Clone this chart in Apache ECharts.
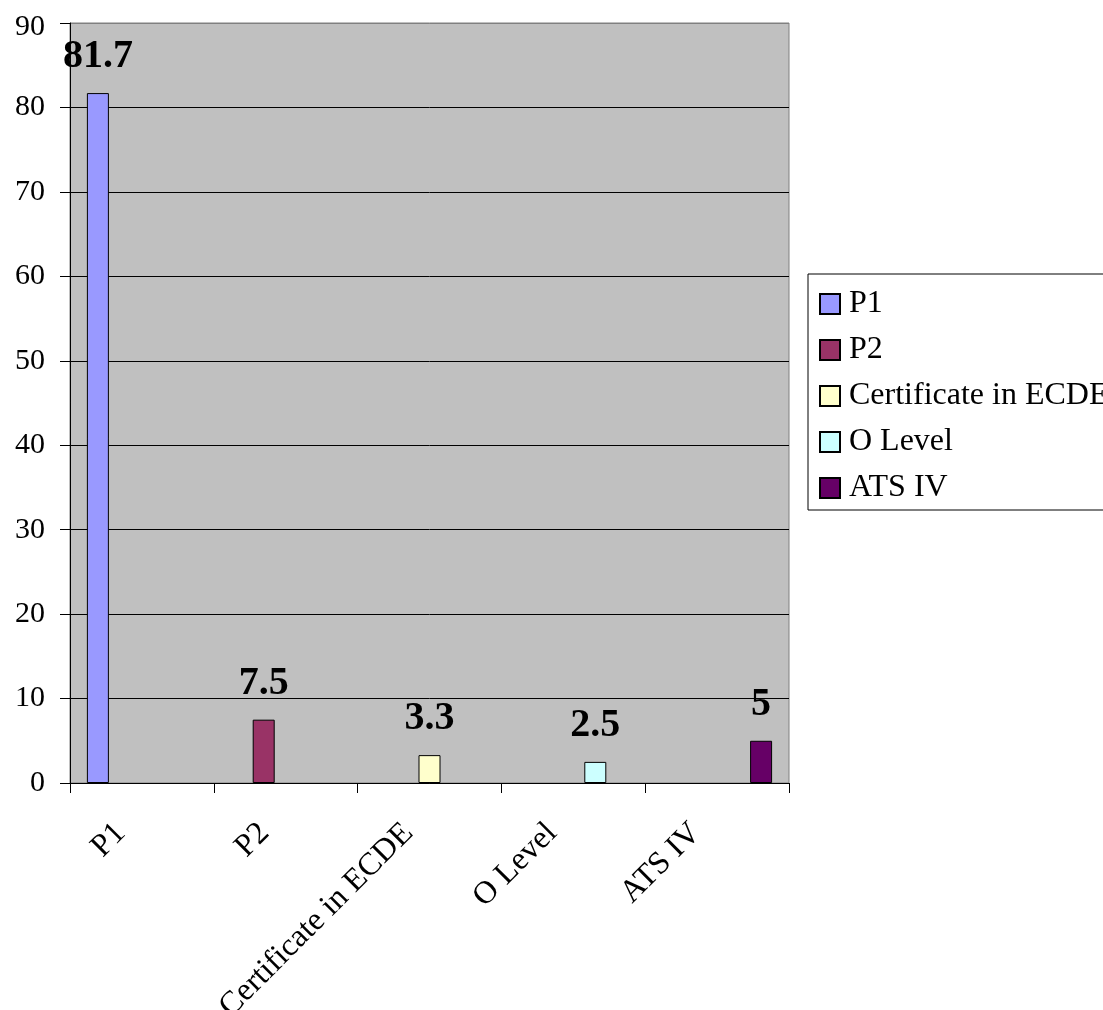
<!DOCTYPE html>
<html>
<head>
<meta charset="utf-8">
<script src="https://cdn.jsdelivr.net/npm/echarts@6/dist/echarts.min.js"></script>
<style>
html,body{margin:0;padding:0;background:#fff;overflow:hidden;}
#c{width:1103px;height:1010px;}
</style>
</head>
<body>
<div id="c"></div>
<script>
var categories = ['P1', 'P2', 'Certificate in ECDE', 'O Level', 'ATS IV'];
var seriesNames = ['P1', 'P2', 'Certificate in ECDE', 'O Level', 'ATS IV'];
var values = [81.7, 7.5, 3.3, 2.5, 5];
var colors = ['#9999FF', '#993366', '#FFFFCC', '#CCFFFF', '#660066'];
var yTicks = [0, 10, 20, 30, 40, 50, 60, 70, 80, 90];

var FONT = '"Liberation Serif", "Times New Roman", serif';
var chart = echarts.init(document.getElementById('c'), null, {renderer: 'canvas'});

var series = seriesNames.map(function (name, i) {
  return {
    name: name,
    type: 'bar',
    barWidth: 22,
    barGap: '0%',
    itemStyle: {color: colors[i], borderColor: '#000', borderWidth: 1},
    label: {
      show: true,
      position: 'top',
      distance: 16,
      color: '#000',
      fontFamily: FONT,
      fontWeight: 'bold',
      fontSize: 40
    },
    data: categories.map(function (c, j) { return j === i ? values[i] : '-'; })
  };
});

var splitColors = yTicks.map(function (t, k) { return k === yTicks.length - 1 ? '#808080' : '#000'; });
var yMax = yTicks[yTicks.length - 1];

chart.setOption({
  animation: false,
  backgroundColor: '#fff',
  grid: {
    left: 70, right: 314, top: 23, bottom: 227,
    show: true, backgroundColor: '#C0C0C0', borderColor: '#808080', borderWidth: 1,
    containLabel: false,
    outerBoundsMode: 'none'
  },
  legend: {
    orient: 'vertical',
    left: 808, top: 274,
    padding: [14, 10, 6, 11],
    itemGap: 14,
    itemWidth: 20, itemHeight: 20,
    icon: 'rect',
    borderColor: '#000', borderWidth: 1,
    backgroundColor: '#fff',
    textStyle: {fontFamily: FONT, fontSize: 32, color: '#000', padding: [0, 0, 0, 4]},
    data: seriesNames
  },
  xAxis: {
    type: 'category',
    data: categories,
    axisLine: {lineStyle: {color: '#000', width: 1}},
    axisTick: {show: true, length: 10, lineStyle: {color: '#000'}},
    axisLabel: {
      rotate: 45, margin: 24, interval: 0,
      fontFamily: FONT, fontSize: 32, color: '#000',
      padding: [0, 30, 0, 0]
    },
    splitLine: {show: false}
  },
  yAxis: {
    type: 'value',
    min: yTicks[0], max: yMax, interval: 10,
    axisLine: {show: true, lineStyle: {color: '#000', width: 1}},
    axisTick: {show: true, length: 10, lineStyle: {color: '#000'}},
    axisLabel: {
      margin: 25, fontFamily: FONT, fontSize: 30, color: '#000',
      formatter: function (v) { return v === yMax ? '{t|' + v + '}' : String(v); },
      rich: {t: {fontFamily: FONT, fontSize: 30, color: '#000', padding: [8, 0, 0, 0]}}
    },
    splitLine: {show: true, lineStyle: {color: splitColors, width: 1}}
  },
  series: series
});
</script>
</body>
</html>
